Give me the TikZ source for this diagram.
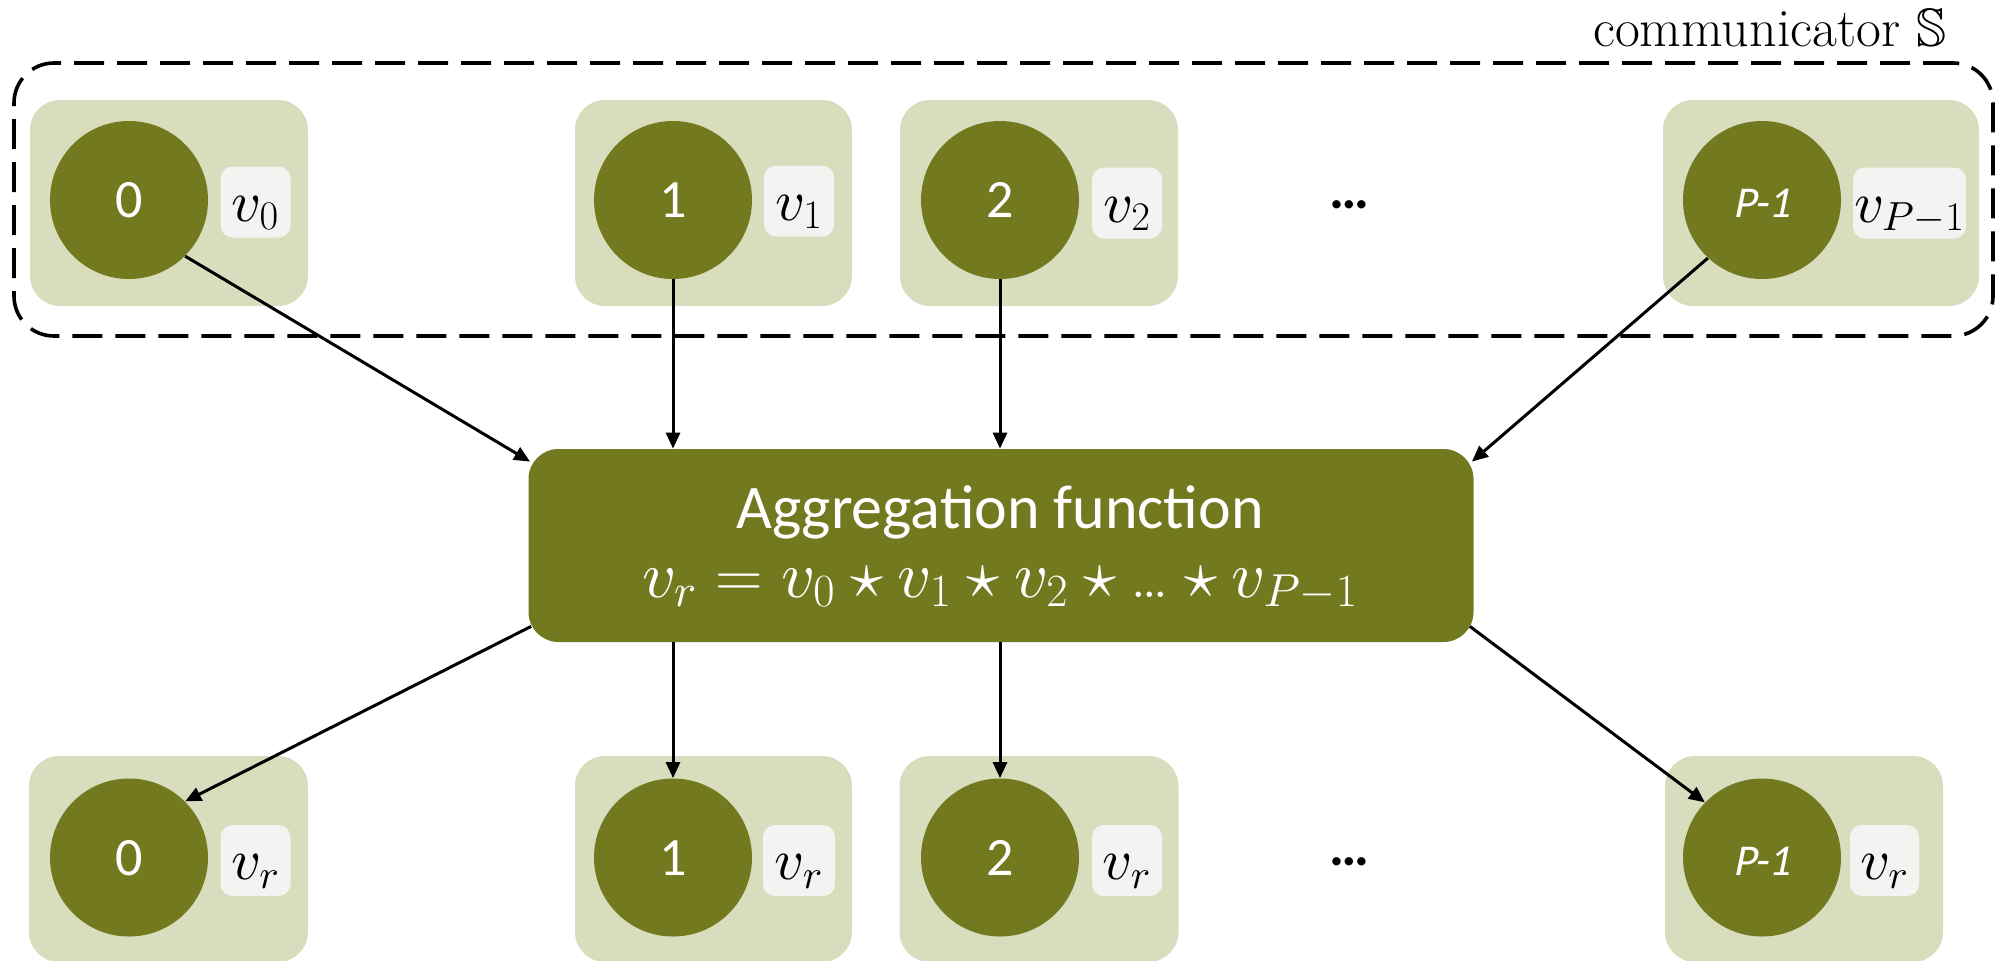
\documentclass[tikz,border=0pt]{standalone}
\usepackage{amssymb}
\usepackage{fontspec}
\newfontfamily\calibri{Carlito}
\newfontfamily\calibrisl{Carlito}[FakeSlant=0.2]
\DeclareFontShape{OML}{cmm}{m}{it}{<-6>cmmi5<6-7>cmmi6<7-8>cmmi7<8-9>cmmi8<9-10>cmmi9<10->cmmi10}{}
\DeclareFontShape{OMS}{cmsy}{m}{n}{<-6>cmsy5<6-7>cmsy6<7-8>cmsy7<8-9>cmsy8<9-10>cmsy9<10->cmsy10}{}
\DeclareFontShape{OT1}{cmr}{m}{n}{<-6>cmr5<6-7>cmr6<7-8>cmr7<8-9>cmr8<9-10>cmr9<10-12>cmr10<12-17>cmr12<17->cmr17}{}
\usetikzlibrary{arrows.meta}
\definecolor{rankolive}{RGB}{114,121,30}
\definecolor{proclight}{RGB}{216,221,190}
\definecolor{valbg}{RGB}{245,243,242}
\begin{document}
\begin{tikzpicture}[x=0.5pt,y=-0.5pt,
  procbox/.style={fill=proclight, rounded corners=15pt, minimum height=103pt, inner sep=0pt},
  rankc/.style={circle, fill=rankolive, minimum size=79pt, inner sep=0pt, text=white, font=\calibri\fontsize{27}{32}\selectfont, text height=17.5pt, text depth=0pt},
  rankp/.style={rankc, font=\calibrisl\fontsize{22}{26}\selectfont},
  valbox/.style={fill=valbg, rounded corners=6pt, minimum height=35.5pt, inner sep=0pt, font=\fontsize{29}{34}\selectfont, text height=19pt, text depth=0pt},
  aggbox/.style={fill=rankolive, rounded corners=15pt, minimum width=472.5pt, minimum height=96.5pt, inner sep=0pt},
  commbox/.style={draw, line width=1.8pt, dash pattern=on 15pt off 6.5pt, rounded corners=20pt, minimum width=989.5pt, minimum height=136.5pt, inner sep=0pt},
  arr/.style={-{Triangle[length=8pt,width=7pt]}, line width=1.5pt},
  dotstxt/.style={font=\calibri\bfseries\fontsize{28}{32}\selectfont, inner sep=0pt, anchor=base},
  aggtxt/.style={text=white, inner sep=0pt, anchor=base},
]
\useasboundingbox (0,0) rectangle (1995,960);
\clip (0,0) rectangle (1995,960);

% communicator frame
\node[commbox] (comm) at (1003.5,199.5) {};
\node[font=\fontsize{27}{31}\selectfont, inner sep=0pt, anchor=base east] (commlabel) at (1947,46) {communicator $\mathbb{S}$};

% top row process boxes
\node[procbox, minimum width=139pt] (tb0) at (169,203) {};
\node[procbox, minimum width=138.5pt] (tb1) at (713.5,203) {};
\node[procbox, minimum width=139pt] (tb2) at (1039,203) {};
\node[procbox, minimum width=158pt] (tb3) at (1821,203) {};

\node[rankc] (c0) at (129,200) {0};
\node[rankc] (c1) at (673,200) {1};
\node[rankc] (c2) at (1000,200) {2};
\node[rankp] (c3) at (1762,200) {P-1};

\node[valbox, minimum width=35pt] (v0) at (255.5,202) {$v_0$};
\node[valbox, minimum width=35pt] (v1) at (799,201) {$v_1$};
\node[valbox, minimum width=35pt] (v2) at (1127,203) {$v_2$};
\node[valbox, minimum width=56.5pt] (v3) at (1909.5,203) {$v_{P-1}$};

\node[dotstxt] (dots1) at (1349,208) {…};

% bottom row process boxes
\node[procbox, minimum width=139.5pt] (bb0) at (168.5,859) {};
\node[procbox, minimum width=138.5pt] (bb1) at (713.5,859) {};
\node[procbox, minimum width=139.5pt] (bb2) at (1039,859) {};
\node[procbox, minimum width=139pt] (bb3) at (1804,859) {};

\node[rankc] (d0) at (129,857.5) {0};
\node[rankc] (d1) at (673,857.5) {1};
\node[rankc] (d2) at (1000,857.5) {2};
\node[rankp] (d3) at (1762,857.5) {P-1};

\node[valbox, minimum width=35pt] (w0) at (255.5,860.5) {$v_r$};
\node[valbox, minimum width=36pt] (w1) at (799,860.5) {$v_r$};
\node[valbox, minimum width=35pt] (w2) at (1127,860.5) {$v_r$};
\node[valbox, minimum width=34.5pt] (w3) at (1884.5,860.5) {$v_r$};

\node[dotstxt] (dots2) at (1349,865) {…};

% aggregation
\node[aggbox] (agg) at (1001,545.5) {};
\node[aggtxt, font=\calibri\fontsize{31}{36}\selectfont] (aggtitle) at (1000,528) {Aggregation function};
\node[aggtxt, font=\fontsize{33}{38}\selectfont] (aggformula) at (1000,597) {$v_r = v_0 \star v_1 \star v_2 \star \mbox{…} \star v_{P-1}$};

% arrows
\draw[arr] (c0.-45) -- ([shift={(2,13)}]agg.north west);
\draw[arr] (c1.south) -- (c1.south |- agg.north);
\draw[arr] (c2.south) -- (c2.south |- agg.north);
\draw[arr] (c3.-133) -- ([shift={(-2,13)}]agg.north east);
\draw[arr] ([shift={(3,-16)}]agg.south west) -- (d0.45);
\draw[arr] (agg.south -| d1.north) -- (d1.north);
\draw[arr] (agg.south -| d2.north) -- (d2.north);
\draw[arr] ([shift={(-4,-16)}]agg.south east) -- (d3.136);
\end{tikzpicture}
\end{document}
